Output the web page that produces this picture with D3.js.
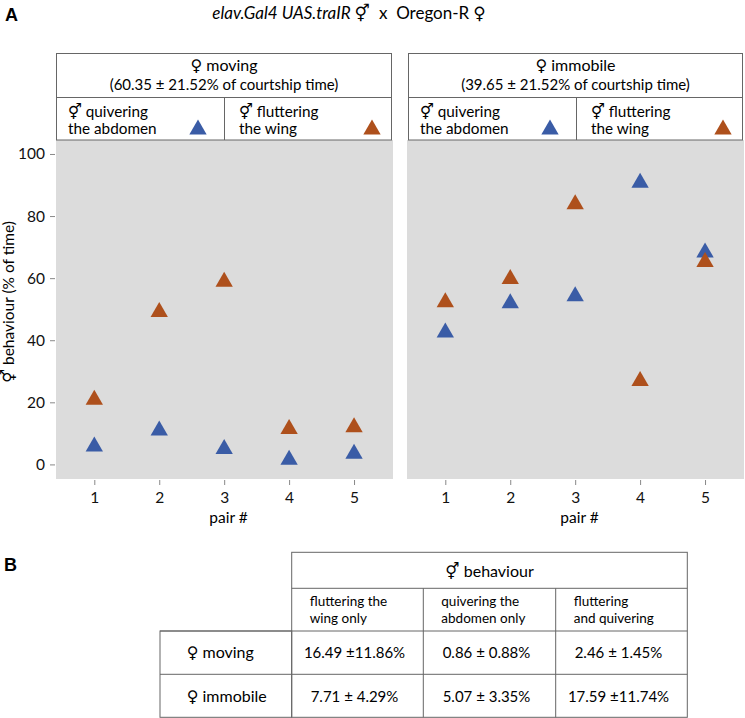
<!DOCTYPE html>
<html><head><meta charset="utf-8">
<script src="https://cdn.jsdelivr.net/npm/d3@7"></script>
<style>
body{margin:0;background:#fff;}
svg{display:block;}
</style></head>
<body>
<svg id="chart" width="745" height="718"></svg>
<script>
// ---------- data ----------
const pairs = [1, 2, 3, 4, 5];
const movingQuivering   = [5.8, 10.9, 5.0, 1.5, 3.4];
const movingFluttering  = [20.8, 49.1, 58.8, 11.4, 12.0];
const immobileQuivering = [42.5, 51.9, 54.2, 90.7, 68.3];
const immobileFluttering= [52.2, 59.7, 83.8, 26.9, 65.2];
const yTicks = [0, 20, 40, 60, 80, 100];
const panelTitles = ["\u2640 moving", "\u2640 immobile"];
const panelSubtitles = ["(60.35 \u00b1 21.52% of courtship time)", "(39.65 \u00b1 21.52% of courtship time)"];
const legendLabels = [["\u26a5 quivering", "the abdomen"], ["\u26a5 fluttering", "the wing"]];
const tableHeader = "\u26a5 behaviour";
const tableColumns = [["fluttering the", "wing only"], ["quivering the", "abdomen only"], ["fluttering", "and quivering"]];
const tableRows = ["\u2640 moving", "\u2640 immobile"];
const tableValues = [
  ["16.49 \u00b111.86%", "0.86 \u00b1 0.88%", "2.46 \u00b1 1.45%"],
  ["7.71 \u00b1 4.29%", "5.07 \u00b1 3.35%", "17.59 \u00b111.74%"]
];

// ---------- style ----------
const FONT = "Lato, 'DejaVu Sans', sans-serif";
const BLUE = "#3a5ca6", ORANGE = "#ae501c", BG = "#dcdcdc", LINE = "#666";

const svg = d3.select("#chart").style("font-family", FONT);

// panel labels
svg.append("text").attr("x", 5).attr("y", 21).text("A")
  .style("font-family", "'Liberation Sans', Arial, sans-serif").style("font-weight", "bold").style("font-size", "18px");
svg.append("text").attr("x", 4).attr("y", 571).text("B")
  .style("font-family", "'Liberation Sans', Arial, sans-serif").style("font-weight", "bold").style("font-size", "18px");

// title
const title = svg.append("text").attr("x", 349).attr("y", 19).attr("text-anchor", "middle").style("font-size", "17px");
title.append("tspan").style("font-style", "italic").text("elav.Gal4 UAS.traIR");
title.append("tspan").attr("dx", 4).text("\u26a5");
title.append("tspan").attr("dx", 9).text("x");
title.append("tspan").attr("dx", 9).text("Oregon-R");
title.append("tspan").attr("dx", 4).text("\u2640");

// ---------- panels ----------
const plotTop = 140, plotBottom = 479;
const y = d3.scaleLinear().domain([-4.7, 104.5]).range([plotBottom, plotTop]);
const panels = [
  {x0: 56, x1: 393, bx0: 56, bx1: 392, div: 224, q: movingQuivering, f: movingFluttering},
  {x0: 407, x1: 744, bx0: 408, bx1: 743, div: 576, q: immobileQuivering, f: immobileFluttering}
];
const tri = d3.symbol().type(d3.symbolTriangle).size(130);

panels.forEach((p, i) => {
  const x = d3.scaleLinear().domain([0.41, 5.6]).range([p.x0, p.x1]);
  const g = svg.append("g");
  g.append("rect").attr("x", p.x0).attr("y", plotTop).attr("width", p.x1 - p.x0).attr("height", plotBottom - plotTop).attr("fill", BG);

  // header box
  const hb = g.append("g").attr("fill", "none").attr("stroke", LINE).attr("stroke-width", 1);
  hb.append("rect").attr("x", p.bx0 + 0.5).attr("y", 53.5).attr("width", p.bx1 - p.bx0 - 1).attr("height", plotTop - 53.5);
  hb.append("line").attr("x1", p.bx0).attr("x2", p.bx1).attr("y1", 97.5).attr("y2", 97.5);
  hb.append("line").attr("x1", p.div + 0.5).attr("x2", p.div + 0.5).attr("y1", 97.5).attr("y2", plotTop);
  const cx = (p.bx0 + p.bx1) / 2;
  g.append("text").attr("x", cx).attr("y", 71).attr("text-anchor", "middle").style("font-size", "16px").text(panelTitles[i]);
  g.append("text").attr("x", cx).attr("y", 90).attr("text-anchor", "middle").style("font-size", "15px").text(panelSubtitles[i]);
  const lx = [p.bx0 + 12, p.div + 15];
  const tx = [p.div - 26, p.bx1 - 20];
  [BLUE, ORANGE].forEach((c, k) => {
    g.append("text").attr("x", lx[k]).attr("y", 116.5).style("font-size", "15.3px").text(legendLabels[k][0]);
    g.append("text").attr("x", lx[k]).attr("y", 134).style("font-size", "15.3px").text(legendLabels[k][1]);
    g.append("path").attr("d", tri).attr("fill", c).attr("transform", `translate(${tx[k]},${129.5})`);
  });

  if (i === 0) {
    const ya = g.append("g").attr("transform", `translate(${p.x0 - 1},0)`)
      .call(d3.axisLeft(y).tickValues(yTicks).tickSize(5).tickPadding(5));
    ya.select(".domain").remove();
    ya.selectAll("line").attr("stroke", "#888");
    ya.selectAll("text").style("font-size", "15.5px").style("font-family", FONT).attr("fill", "#111");
  }
  const xa = g.append("g").attr("transform", `translate(0,${plotBottom + 1})`)
    .call(d3.axisBottom(x).tickValues(pairs).tickFormat(d3.format("d")).tickSize(5).tickPadding(7));
  xa.select(".domain").remove();
  xa.selectAll("line").attr("stroke", "#888");
  xa.selectAll("text").style("font-size", "15.5px").style("font-family", FONT).attr("fill", "#111");
  g.append("text").attr("x", (p.x0 + p.x1) / 2 + 4).attr("y", 523).attr("text-anchor", "middle").style("font-size", "15.5px").text("pair #");

  g.selectAll(".q").data(pairs).enter().append("path").attr("d", tri).attr("fill", BLUE)
    .attr("transform", (d, j) => `translate(${x(d)},${y(p.q[j])})`);
  g.selectAll(".f").data(pairs).enter().append("path").attr("d", tri).attr("fill", ORANGE)
    .attr("transform", (d, j) => `translate(${x(d)},${y(p.f[j])})`);
});

svg.append("text").attr("transform", "translate(14,302) rotate(-90)").attr("text-anchor", "middle")
  .style("font-size", "15.5px").text("\u26a5 behaviour (% of time)");

// ---------- table ----------
const tX = [291.7, 423.3, 555.7, 687.3];
const tY = [552.3, 588.3, 631, 674.3, 717.3];
const rowLeft = 160;
const tb = svg.append("g").attr("fill", "none").attr("stroke", LINE).attr("stroke-width", 1);
tb.append("rect").attr("x", tX[0]).attr("y", tY[0]).attr("width", tX[3] - tX[0]).attr("height", tY[4] - tY[0]);
tb.append("rect").attr("x", rowLeft).attr("y", tY[2]).attr("width", tX[0] - rowLeft).attr("height", tY[4] - tY[2]);
[1, 2, 3].forEach(k => tb.append("line").attr("x1", k === 1 ? tX[0] : rowLeft).attr("x2", tX[3]).attr("y1", tY[k]).attr("y2", tY[k]));
[1, 2].forEach(k => tb.append("line").attr("x1", tX[k]).attr("x2", tX[k]).attr("y1", tY[1]).attr("y2", tY[4]));

svg.append("text").attr("x", (tX[0] + tX[3]) / 2).attr("y", 577).attr("text-anchor", "middle").style("font-size", "16px").text(tableHeader);
tableColumns.forEach((c, k) => {
  svg.append("text").attr("x", tX[k] + 18).attr("y", 606).style("font-size", "13.5px").text(c[0]);
  svg.append("text").attr("x", tX[k] + 18).attr("y", 623).style("font-size", "13.5px").text(c[1]);
});
tableRows.forEach((r, i) => {
  const yy = [658, 702][i];
  svg.append("text").attr("x", 186.7).attr("y", yy).style("font-size", "16px").text(r);
  tableValues[i].forEach((v, k) => {
    svg.append("text").attr("x", (tX[k] + tX[k + 1]) / 2 - 3).attr("y", yy).attr("text-anchor", "middle").style("font-size", "15px").text(v);
  });
});
</script>
</body></html>
